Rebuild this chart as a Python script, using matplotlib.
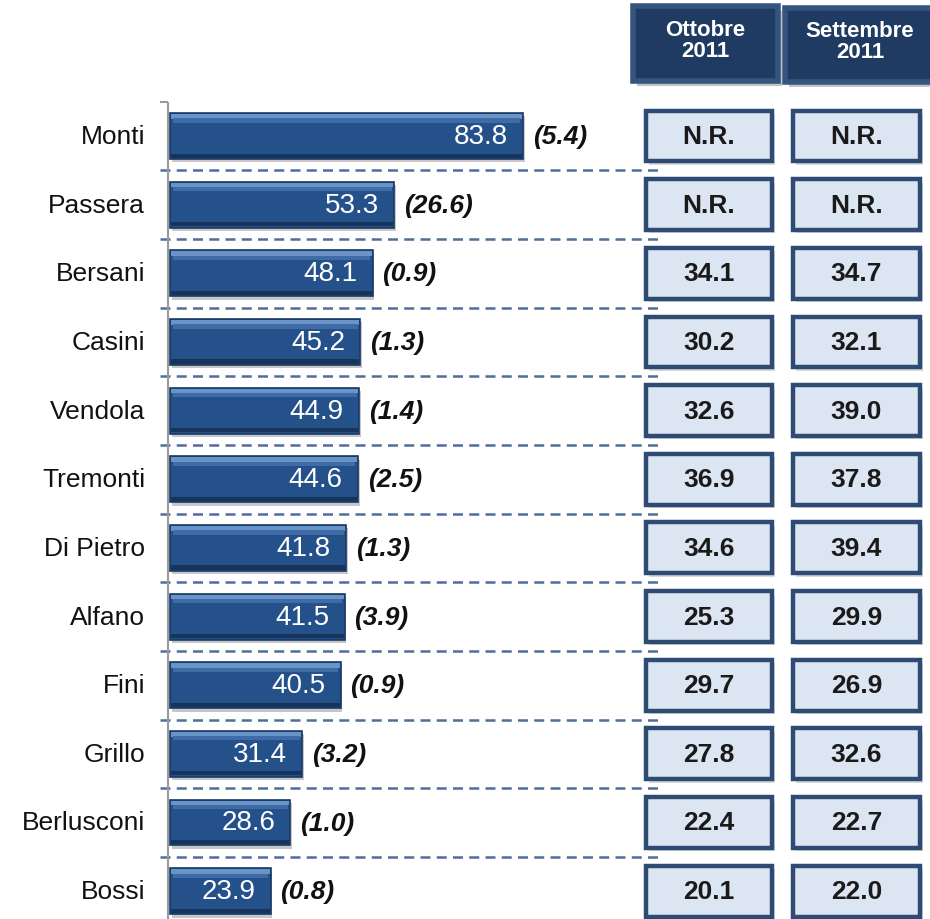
import matplotlib
matplotlib.use("Agg")
import matplotlib.pyplot as plt
from matplotlib.patches import Rectangle

# data
names = ["Monti", "Passera", "Bersani", "Casini", "Vendola", "Tremonti",
         "Di Pietro", "Alfano", "Fini", "Grillo", "Berlusconi", "Bossi"]
values = [83.8, 53.3, 48.1, 45.2, 44.9, 44.6, 41.8, 41.5, 40.5, 31.4, 28.6, 23.9]
changes = ["(5.4)", "(26.6)", "(0.9)", "(1.3)", "(1.4)", "(2.5)",
           "(1.3)", "(3.9)", "(0.9)", "(3.2)", "(1.0)", "(0.8)"]
ottobre = ["N.R.", "N.R.", "34.1", "30.2", "32.6", "36.9",
           "34.6", "25.3", "29.7", "27.8", "22.4", "20.1"]
settembre = ["N.R.", "N.R.", "34.7", "32.1", "39.0", "37.8",
             "39.4", "29.9", "26.9", "32.6", "22.7", "22.0"]
headers = ["Ottobre\n2011", "Settembre\n2011"]

SANS = ["Liberation Sans", "DejaVu Sans"]

W, H = 930, 920
fig = plt.figure(figsize=(W / 100, H / 100), dpi=100)
ax = fig.add_axes([0, 0, 1, 1])
ax.axis("off")

# pixel layout -> data scale: 0 at x=170px, 4.212 px per unit; rows every 68.65 px from y=137
PX = 4.212
ax.set_xlim(-170 / PX, (W - 170) / PX)
ax.set_ylim((H - 137) / 68.65, -137 / 68.65)

rows = list(range(len(names)))
bar_h = 0.67

# shadow, bar, bevel highlights
ax.barh([r + 0.05 for r in rows], values, height=bar_h, left=0.4,
        color="#9a9a9a", alpha=0.55, zorder=2)
ax.barh(rows, values, height=bar_h, color="#25518b",
        edgecolor="#183a68", linewidth=1.2, zorder=3)
ax.barh([r - bar_h / 2 + 0.05 for r in rows], [v - 0.5 for v in values],
        height=0.07, left=0.25, color="#6a94c8", zorder=4)
ax.barh([r - bar_h / 2 + 0.11 for r in rows], [v - 1.2 for v in values],
        height=0.06, left=0.6, color="#3f6ca6", zorder=4)
ax.barh([r + bar_h / 2 - 0.05 for r in rows], [v - 0.5 for v in values],
        height=0.06, left=0.25, color="#17345c", zorder=4)

for r, v, c, n in zip(rows, values, changes, names):
    ax.annotate(f"{v:.1f}", (v, r), xytext=(-11, 0), textcoords="offset points",
                ha="right", va="center", color="white", fontsize=20,
                family=SANS, zorder=5)
    ax.annotate(c, (v, r), xytext=(7, 0), textcoords="offset points",
                ha="left", va="center", color="#111111", fontsize=19,
                family=SANS, fontweight="bold", fontstyle="italic", zorder=5)
    ax.text(145 / W, r, n, transform=ax.get_yaxis_transform(),
            ha="right", va="center", fontsize=19, family=SANS, color="#111111")

# dashed separators and axis line
ax.hlines([r + 0.5 for r in rows[:-1]], -10 / PX, 490 / PX, colors="#4d6f99",
          linestyles=(0, (4, 2.5)), linewidth=1.8, zorder=1)
ax.vlines(-2 / PX, -0.495, 11.6, colors="#9a9a9a", linewidth=1.5, zorder=1)
ax.hlines(-0.495, -10 / PX, -2 / PX, colors="#9a9a9a", linewidth=1.5, zorder=1)

# value boxes
blend = ax.get_yaxis_transform()
cols = [(646, 772, ottobre), (793, 920, settembre)]
box_h = 0.74
for x0, x1, col in cols:
    for r, t in zip(rows, col):
        ax.add_patch(Rectangle((x0 / W + 0.003, r - box_h / 2 + 0.05), (x1 - x0) / W, box_h,
                               transform=blend, facecolor="#b5b5b5", edgecolor="none",
                               alpha=0.5, zorder=2))
        ax.add_patch(Rectangle((x0 / W, r - box_h / 2), (x1 - x0) / W, box_h,
                               transform=blend, facecolor="#dce6f2", edgecolor="#2e4b74",
                               linewidth=3.2, zorder=3))
        ax.text((x0 + x1) / 2 / W, r, t, transform=blend, ha="center", va="center",
                fontsize=19, fontweight="bold", family=SANS, color="#1a1a1a", zorder=4)

# header boxes
for (x0, x1, y0, y1), h in zip([(633, 778, 7, 82), (785, 935, 9, 83)], headers):
    fx0, fx1 = x0 / W, x1 / W
    fy0, fy1 = 1 - y1 / H, 1 - y0 / H
    fig.patches.append(Rectangle((fx0 + 0.004, fy0 - 0.005), fx1 - fx0, fy1 - fy0,
                                 transform=fig.transFigure, facecolor="#9c9c9c",
                                 edgecolor="none", alpha=0.6, zorder=1))
    fig.patches.append(Rectangle((fx0, fy0), fx1 - fx0, fy1 - fy0,
                                 transform=fig.transFigure, facecolor="#1f3b62",
                                 edgecolor="#34557f", linewidth=4, zorder=2))
    fig.text((fx0 + fx1) / 2, (fy0 + fy1) / 2 + 0.004, h, ha="center", va="center",
             color="white", fontsize=16, fontweight="bold", family=SANS,
             linespacing=1.0, zorder=3)

fig.savefig("out.png", dpi=100)
